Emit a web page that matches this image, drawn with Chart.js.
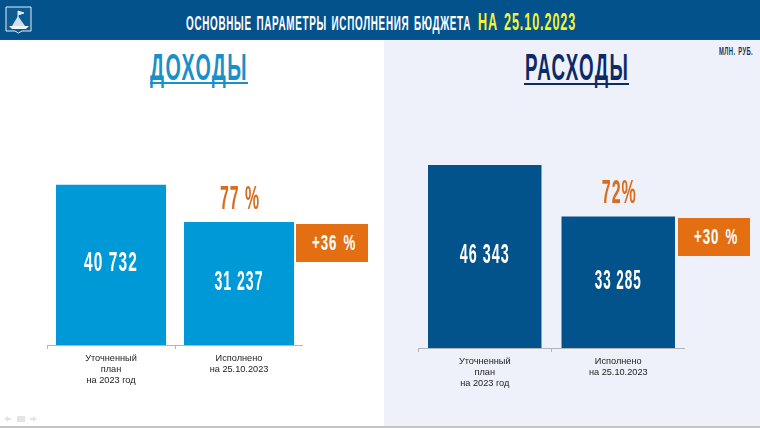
<!DOCTYPE html>
<html><head><meta charset="utf-8">
<script src="https://cdn.jsdelivr.net/npm/chart.js@4"></script>
<style>
html,body{margin:0;padding:0;background:#fff;overflow:hidden}
#stage{position:relative;width:760px;height:428px;overflow:hidden;background:#fff;font-family:"Liberation Sans Narrow","Liberation Sans",sans-serif}
#head{position:absolute;left:0;top:0;width:760px;height:39px;background:#04528c;border-bottom:1px solid #2d4f6c}
#panel{position:absolute;left:384px;top:40px;width:376px;height:387px;background:#eef1f9}
#foot{position:absolute;left:0;top:426px;width:760px;height:2px;background:#c4c4c4}
.fit{position:absolute;font-weight:700;line-height:1;white-space:nowrap;transform-origin:left top;letter-spacing:.07em;word-spacing:.12em}
.rule{position:absolute;height:2px}
.box{position:absolute;background:#e36f12}
canvas.c{position:absolute}
.cw{position:absolute}
</style></head><body>
<div id="stage">
<div id="panel"></div><div id="head"></div><div id="foot"></div>
<svg style="position:absolute;left:5px;top:6px" width="27" height="28" viewBox="0 0 27 28">
<path d="M1 1H26V25H17L13.500 27L10 25H1Z" fill="#0d5b93" stroke="#e6eef5" stroke-width="1"/>
<path d="M13 5V16M13 5L19 7L13 9" stroke="#dfe9f2" fill="#dfe9f2" stroke-width="1"/>
<path d="M13 10L20 20H7Z" fill="#cfdfec"/><path d="M4 20H24L21 23H7Z" fill="#eef4f8"/>
</svg>
<span class="fit" data-w="285" style="left:186px;top:12px;font-size:21px;color:#fff">ОСНОВНЫЕ ПАРАМЕТРЫ ИСПОЛНЕНИЯ БЮДЖЕТА</span>
<span class="fit" data-w="98" style="left:478px;top:11px;font-size:23px;color:#f2f52f">НА 25.10.2023</span>
<span class="fit" data-w="98" style="left:150px;top:49px;font-size:37px;color:#1a90c9">ДОХОДЫ</span>
<div class="rule" style="left:150px;top:82px;width:98px;background:#1a90c9"></div>
<span class="fit" data-w="104" style="left:525px;top:49px;font-size:37px;color:#0c2a66">РАСХОДЫ</span>
<div class="rule" style="left:524px;top:83px;width:105px;background:#0c2a66"></div>
<span class="fit" data-w="34" style="left:719px;top:46px;font-size:11px;color:#17305f">МЛН. РУБ.</span>
<div class="box" style="left:296px;top:224px;width:72px;height:38px"></div>
<span class="fit" data-w="44" style="left:312px;top:232px;font-size:22px;color:#fff">+36 %</span>
<div class="box" style="left:678px;top:218px;width:72px;height:38px"></div>
<span class="fit" data-w="44" style="left:694px;top:226px;font-size:22px;color:#fff">+30 %</span>
<svg style="position:absolute;left:2px;top:415px" width="36" height="8" viewBox="0 0 36 8" fill="#e4e4e4">
<path d="M2 4L6 1V3H9V5H6V7Z"/><rect x="15" y="1" width="8" height="6"/><path d="M35 4L31 1V3H28V5H31V7Z"/></svg>
<div class="cw" style="left:47px;top:105px;width:256px;height:290px"><canvas class="c" id="cL"></canvas></div>
<div class="cw" style="left:418px;top:108px;width:267px;height:290px"><canvas class="c" id="cR"></canvas></div>
</div>
<script>
const categories = [["Уточненный","план","на 2023 год"],["Исполнено","на 25.10.2023"]];
const incomeValues = [40732, 31237];
const expenseValues = [46343, 33285];
const incomeLabels = ["40 732", "31 237"];
const expenseLabels = ["46 343", "33 285"];
const incomePercent = "77 %";
const expensePercent = "72%";
const incomeColor = "#0099d8";
const expenseColor = "#02528c";

document.querySelectorAll('.fit').forEach(e=>{
  const s=+e.dataset.w/e.offsetWidth;
  e.style.transform='scaleX('+s+')';
});

const narrow='"Liberation Sans Narrow","Liberation Sans",sans-serif';
function fitText(ctx,text,cx,cy,width,size,color){
  ctx.save();
  ctx.font='700 '+size+'px '+narrow;
  ctx.letterSpacing='2px';
  ctx.textAlign='center';ctx.textBaseline='middle';ctx.fillStyle=color;
  const w=ctx.measureText(text).width;
  ctx.translate(cx,cy);ctx.scale(width/w,1);
  ctx.fillText(text,0,0);
  ctx.restore();
}
function labelsPlugin(texts,widths,pct,pctW,pctGap){
  return {id:'vals',afterDatasetsDraw(ch){
    const m=ch.getDatasetMeta(0),ctx=ch.ctx,base=ch.scales.y.getPixelForValue(0);
    m.data.forEach((b,i)=>{
      fitText(ctx,texts[i],b.x,(b.y+base)/2-1.5,widths[i],28,'#fff');
    });
    const b=m.data[1];
    fitText(ctx,pct,b.x+1,b.y-pctGap,pctW,33,'#d96d1e');
  }};
}
function make(id,values,color,yMax,barPct,plugin){
  return new Chart(document.getElementById(id),{
    type:'bar',
    data:{labels:categories,datasets:[{data:values,backgroundColor:color,barPercentage:barPct,categoryPercentage:1,borderWidth:0}]},
    options:{responsive:true,maintainAspectRatio:false,animation:false,
      layout:{padding:0},
      plugins:{legend:{display:false},tooltip:{enabled:false}},
      scales:{
        y:{display:false,min:0,max:yMax},
        x:{offset:true,
          afterFit(s){s.height=50;},
          border:{color:'#b5b5b5',width:1},
          grid:{drawOnChartArea:false,drawTicks:true,tickLength:4,color:'#b5b5b5',offset:true},
          ticks:{color:'#222',font:{family:'"Liberation Sans",sans-serif',size:9.2,lineHeight:1.2},maxRotation:0,autoSkip:false,padding:4}
        }
      }
    },
    plugins:[plugin]
  });
}
make('cL',incomeValues,incomeColor,61000,0.86,labelsPlugin(incomeLabels,[54,49],incomePercent,40,22));
make('cR',expenseValues,expenseColor,60800,0.85,labelsPlugin(expenseLabels,[50,47],expensePercent,35,23));
</script>
</body></html>
